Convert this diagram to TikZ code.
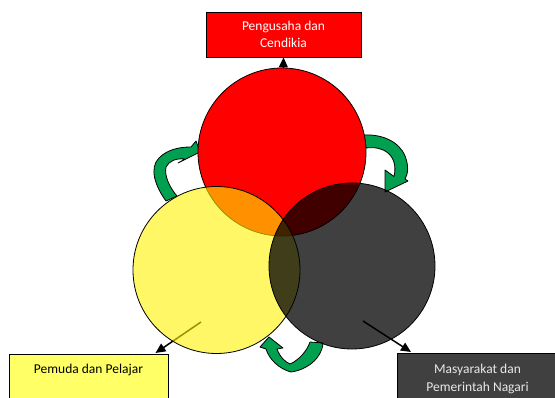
\documentclass[tikz,border=0pt]{standalone}
\usepackage{fontspec}
\setmainfont{Carlito}
\usetikzlibrary{arrows.meta}
\definecolor{arrowgreen}{RGB}{0,160,80}
\definecolor{darkfill}{RGB}{64,64,64}
\definecolor{boxyellow}{RGB}{255,255,102}
\definecolor{lighttext}{RGB}{232,232,232}
\tikzset{
  ring/.style={circle, draw=black, line width=0.8pt, inner sep=0pt},
  labelbox/.style={rectangle, draw=black, line width=0.8pt, inner sep=0pt},
  labeltext/.style={font=\fontsize{13.5}{17.5}\selectfont, align=center, inner sep=0pt},
  pointer/.style={draw=black, line width=1.5pt, -{Triangle[length=10pt,width=9pt]}},
  greenarrow/.style={fill=arrowgreen, draw=black, line width=0.8pt, line join=round}
}
\begin{document}
\begin{tikzpicture}[x=1pt,y=-1pt]
\useasboundingbox (0,0) rectangle (555,398);
\clip (0,0) rectangle (555,398);
% circle centres (nodes drawn later, coordinates first)
\coordinate (rcen) at (282,152);
\coordinate (ystart) at (201,322);
\coordinate (ytip) at (155.5,353);
\coordinate (dstart) at (363,321);
\coordinate (dtip) at (411,352);
\node[labelbox, fill=red, minimum width=155pt, minimum height=45pt] (rbox) at (283.5,34.5) {};
% connectors (behind the circles)
\draw[pointer] (rcen) -- (rbox.south);
\draw[pointer] (ystart) -- (ytip);
\draw[pointer] (dstart) -- (dtip);
% green curved arrows
\draw[greenarrow] (166,201) .. controls (155,186) and (149,168) .. (159,158)
  .. controls (167,150) and (178,147) .. (191,147) -- (196,141) -- (200,152) -- (178,163) -- (185,159)
  .. controls (176,158) and (169,161) .. (166,167)
  .. controls (164,176) and (170,188) .. (177,196) -- cycle;
\draw[greenarrow] (364,135) .. controls (381,134) and (399,141) .. (405,156)
  .. controls (409,166) and (408,174) .. (405,179) -- (408,181) -- (385,192) -- (385,170) -- (394,176.5)
  .. controls (396,168) and (395,159) .. (388,153)
  .. controls (382,148) and (374,147) .. (366,148) -- cycle;
\draw[greenarrow] (323,343) .. controls (322,359) and (306,370) .. (291,372)
  .. controls (279,369) and (269,359) .. (266,349) -- (260,347) -- (269,337) -- (283,348) -- (277,349)
  .. controls (280,357) and (285,362) .. (290,364)
  .. controls (299,360) and (307,351) .. (310,342) -- cycle;
% circles
\node[ring, fill=red, minimum size=168pt] (rc) at (rcen) {};
\node[ring, fill=yellow, fill opacity=0.6, minimum size=167pt] (yc) at (216.5,270) {};
\node[ring, fill=black, fill opacity=0.75, minimum size=166pt] (dc) at (352,266) {};
% boxes
\node[labeltext, text=white] (rtext) at (rbox.center) {Pengusaha dan\\Cendikia};
\node[labelbox, fill=boxyellow, minimum width=159pt, minimum height=46pt] (ybox) at (88.5,377) {};
\node[labeltext, text=black] (ytext) at (88.5,370) {Pemuda dan Pelajar};
\node[labelbox, fill=darkfill, minimum width=162pt, minimum height=46pt] (dbox) at (478,376) {};
\node[labeltext, text=lighttext] (dtext) at (477.5,379) {Masyarakat dan\\Pemerintah Nagari};
\end{tikzpicture}
\end{document}
